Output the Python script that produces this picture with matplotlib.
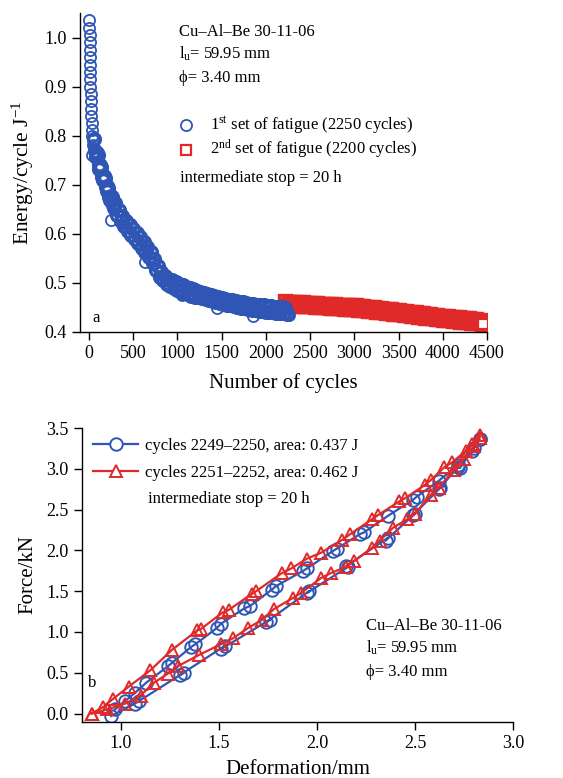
import matplotlib
matplotlib.use("Agg")
import matplotlib.pyplot as plt
from matplotlib.lines import Line2D

plt.rcParams['font.family'] = ['Liberation Serif', 'DejaVu Serif']
plt.rcParams['mathtext.fontset'] = 'custom'
plt.rcParams['mathtext.rm'] = 'Liberation Serif'
plt.rcParams['mathtext.it'] = 'Liberation Serif:italic'

BLUE = '#2f56b4'
RED = '#e02a2a'

# panel a: energy per cycle, 1st set (dense)
steep_cycles = [5, 7, 8, 9, 10, 11, 12, 14, 15, 17, 19, 21, 24, 27, 31, 36, 40, 45, 50, 55]
steep_energy = [1.035, 1.020, 1.005, 0.990, 0.975, 0.960, 0.945, 0.930, 0.915, 0.900,
                0.885, 0.870, 0.855, 0.840, 0.825, 0.812, 0.800, 0.792, 0.782, 0.775]

blue_cycles = list(range(60, 2241, 20))
blue_energy = [0.793, 0.757, 0.760, 0.732, 0.736, 0.709, 0.714, 0.688, 0.694, 0.669,
               0.676, 0.652, 0.661, 0.638, 0.648, 0.626, 0.637, 0.616, 0.627, 0.606,
               0.618, 0.598, 0.610, 0.590, 0.602, 0.582, 0.593, 0.572, 0.583, 0.562,
               0.573, 0.552, 0.562, 0.540, 0.549, 0.526, 0.535, 0.513, 0.523, 0.505,
               0.515, 0.498, 0.509, 0.493, 0.505, 0.489, 0.501, 0.485, 0.498, 0.482,
               0.495, 0.480, 0.492, 0.477, 0.490, 0.474, 0.487, 0.472, 0.484, 0.471,
               0.482, 0.469, 0.480, 0.467, 0.478, 0.465, 0.476, 0.463, 0.474, 0.461,
               0.472, 0.459, 0.470, 0.457, 0.468, 0.455, 0.466, 0.454, 0.465, 0.452,
               0.463, 0.451, 0.462, 0.449, 0.461, 0.448, 0.459, 0.447, 0.458, 0.445,
               0.457, 0.444, 0.456, 0.443, 0.455, 0.442, 0.454, 0.441, 0.453, 0.440,
               0.452, 0.440, 0.451, 0.439, 0.451, 0.438, 0.450, 0.438, 0.449, 0.437]

# extra points where the early band is steep
early_cycles = [70, 90, 110, 130, 150, 170, 190, 210, 230, 250, 270, 290]
early_energy = [0.768, 0.764, 0.740, 0.740, 0.716, 0.718, 0.695, 0.697, 0.675, 0.678,
                0.658, 0.662]

# single circles that stand out of the band
stray_cycles = [30, 250, 640, 1050, 1450, 1680, 1850, 2260]
stray_energy = [0.760, 0.628, 0.543, 0.475, 0.448, 0.463, 0.432, 0.435]

# 2nd set
red_cycles = list(range(2220, 4441, 20)) + [4450]
red_energy = [0.463, 0.455, 0.462, 0.454, 0.462, 0.454, 0.462, 0.453, 0.461, 0.453,
              0.461, 0.452, 0.460, 0.452, 0.460, 0.452, 0.459, 0.451, 0.459, 0.451,
              0.458, 0.450, 0.458, 0.450, 0.457, 0.449, 0.457, 0.449, 0.457, 0.448,
              0.456, 0.448, 0.456, 0.447, 0.455, 0.447, 0.455, 0.446, 0.454, 0.446,
              0.454, 0.445, 0.453, 0.444, 0.452, 0.444, 0.451, 0.443, 0.450, 0.442,
              0.450, 0.441, 0.449, 0.440, 0.448, 0.440, 0.447, 0.439, 0.446, 0.438,
              0.446, 0.437, 0.445, 0.436, 0.444, 0.436, 0.443, 0.435, 0.442, 0.434,
              0.441, 0.433, 0.441, 0.432, 0.440, 0.431, 0.439, 0.430, 0.438, 0.429,
              0.437, 0.429, 0.436, 0.428, 0.435, 0.427, 0.434, 0.426, 0.433, 0.425,
              0.433, 0.424, 0.432, 0.424, 0.431, 0.423, 0.431, 0.422, 0.430, 0.421,
              0.429, 0.421, 0.428, 0.420, 0.428, 0.419, 0.427, 0.419, 0.426, 0.418,
              0.425, 0.417, 0.417]

# panel b: hysteresis loops (deformation mm, force kN)
loop1_up_def = [0.97, 1.02, 1.07, 1.13, 1.24, 1.26, 1.36, 1.38, 1.49, 1.51, 1.63, 1.66,
                1.77, 1.79, 1.93, 1.95, 2.08, 2.10, 2.22, 2.24, 2.36, 2.49, 2.51, 2.62,
                2.72, 2.80, 2.83]
loop1_up = [0.05, 0.15, 0.25, 0.38, 0.58, 0.62, 0.82, 0.85, 1.05, 1.10, 1.29, 1.32,
            1.52, 1.56, 1.75, 1.78, 1.99, 2.02, 2.20, 2.22, 2.42, 2.62, 2.66, 2.85,
            3.05, 3.25, 3.36]
loop1_lo_def = [2.83, 2.79, 2.73, 2.72, 2.62, 2.63, 2.49, 2.50, 2.35, 2.36, 2.15, 2.16,
                1.95, 1.96, 1.74, 1.76, 1.51, 1.53, 1.30, 1.32, 1.09, 1.07, 0.95]
loop1_lo = [3.36, 3.22, 3.01, 3.02, 2.75, 2.77, 2.43, 2.45, 2.12, 2.15, 1.81, 1.80,
            1.48, 1.50, 1.12, 1.15, 0.79, 0.83, 0.47, 0.50, 0.15, 0.12, -0.03]

loop2_up_def = [0.85, 0.91, 0.96, 1.04, 1.15, 1.26, 1.39, 1.41, 1.52, 1.55, 1.67, 1.69,
                1.82, 1.87, 1.95, 2.02, 2.13, 2.17, 2.28, 2.31, 2.42, 2.45, 2.55, 2.58,
                2.65, 2.69, 2.76, 2.79, 2.83]
loop2_up = [0.00, 0.08, 0.18, 0.33, 0.53, 0.78, 1.02, 1.04, 1.24, 1.27, 1.47, 1.50,
            1.72, 1.78, 1.90, 1.97, 2.13, 2.20, 2.38, 2.43, 2.60, 2.64, 2.80, 2.86,
            3.02, 3.08, 3.22, 3.30, 3.41]
loop2_lo_def = [2.83, 2.80, 2.75, 2.70, 2.62, 2.58, 2.50, 2.46, 2.39, 2.32, 2.28, 2.19,
                2.15, 2.07, 2.02, 1.92, 1.88, 1.78, 1.72, 1.65, 1.57, 1.51, 1.40, 1.29,
                1.24, 1.17, 1.10, 1.02, 0.93, 0.85]
loop2_lo = [3.38, 3.28, 3.12, 2.98, 2.77, 2.68, 2.45, 2.38, 2.28, 2.12, 2.03, 1.87,
            1.80, 1.72, 1.66, 1.48, 1.42, 1.28, 1.15, 1.05, 0.92, 0.85, 0.72, 0.58,
            0.49, 0.38, 0.22, 0.12, 0.05, 0.00]

fig = plt.figure(figsize=(5.63, 7.78), dpi=100)


def style(ax):
    for s in ['top', 'right']:
        ax.spines[s].set_visible(False)
    for s in ['left', 'bottom']:
        ax.spines[s].set_linewidth(1.0)
    ax.tick_params(direction='out', length=6, width=1.0, labelsize=13)


# ---- panel a ----
ax1 = fig.add_axes([80 / 563, 1 - 332 / 778, 407 / 563, 319 / 778])
ax1.plot(red_cycles, red_energy, 's', ms=8, mfc='none', mec=RED, mew=2.4, ls='none')
# last square of the run shows its white inside
ax1.plot(red_cycles[-1:], red_energy[-1:], 's', ms=7.5, mfc='white', mec=RED, mew=1.6)
ax1.plot(blue_cycles, blue_energy, 'o', ms=8.5, mfc='none', mec=BLUE, mew=2.4, ls='none')
ax1.plot(early_cycles, early_energy, 'o', ms=8.5, mfc='none', mec=BLUE, mew=2.4, ls='none')
ax1.plot(steep_cycles, steep_energy, 'o', ms=8, mfc='none', mec=BLUE, mew=1.3, ls='none')
ax1.plot(stray_cycles, stray_energy, 'o', ms=8, mfc='none', mec=BLUE, mew=1.3, ls='none')
ax1.set_xlim(-100, 4500)
ax1.set_ylim(0.4, 1.05)
ax1.set_xticks(range(0, 4501, 500))
ax1.set_yticks([0.4, 0.5, 0.6, 0.7, 0.8, 0.9, 1.0])
ax1.set_yticklabels(['0.4', '0.5', '0.6', '0.7', '0.8', '0.9', '1.0'])
style(ax1)
ax1.set_xlabel('Number of cycles', fontsize=15, labelpad=8)
ax1.set_ylabel('Energy/cycle J$^{-1}$', fontsize=15.5, labelpad=6)

ax1.text(0.243, 0.940, 'Cu–Al–Be 30-11-06', transform=ax1.transAxes, fontsize=12, va='center')
ax1.text(0.243, 0.871, 'l$_{\\rm u}$= 59.95 mm', transform=ax1.transAxes, fontsize=12, va='center')
ax1.text(0.243, 0.796, 'ϕ= 3.40 mm', transform=ax1.transAxes, fontsize=12, va='center')
ax1.plot([0.260], [0.649], 'o', ms=8, mfc='none', mec=BLUE, mew=1.3, transform=ax1.transAxes)
ax1.plot([0.260], [0.571], 's', ms=7.5, mfc='white', mec=RED, mew=1.6, transform=ax1.transAxes)
ax1.text(0.320, 0.649, '1$^{\\rm st}$ set of fatigue (2250 cycles)', transform=ax1.transAxes,
         fontsize=12, va='center')
ax1.text(0.320, 0.571, '2$^{\\rm nd}$ set of fatigue (2200 cycles)', transform=ax1.transAxes,
         fontsize=12, va='center')
ax1.text(0.246, 0.483, 'intermediate stop = 20 h', transform=ax1.transAxes, fontsize=12,
         va='center')
ax1.text(0.03, 0.044, 'a', transform=ax1.transAxes, fontsize=12, va='center')

# ---- panel b ----
ax2 = fig.add_axes([81.7 / 563, 1 - 721.7 / 778, 431.3 / 563, 293.7 / 778])
ax2.plot(loop1_up_def + loop1_lo_def, loop1_up + loop1_lo, '-o', color=BLUE, lw=1.6,
         ms=9, mfc='none', mec=BLUE, mew=1.4)
ax2.plot(loop2_up_def + loop2_lo_def, loop2_up + loop2_lo, '-^', color=RED, lw=1.6,
         ms=9, mfc='none', mec=RED, mew=1.4)
ax2.set_xlim(0.8, 3.0)
ax2.set_ylim(-0.1, 3.5)
ax2.set_xticks([1.0, 1.5, 2.0, 2.5, 3.0])
ax2.set_yticks([0.0, 0.5, 1.0, 1.5, 2.0, 2.5, 3.0, 3.5])
style(ax2)
ax2.set_xlabel('Deformation/mm', fontsize=15, labelpad=6)
ax2.set_ylabel('Force/kN', fontsize=15, labelpad=6)

handles = [Line2D([], [], color=BLUE, lw=1.6, marker='o', ms=9, mfc='white', mec=BLUE, mew=1.4),
           Line2D([], [], color=RED, lw=1.6, marker='^', ms=9, mfc='white', mec=RED, mew=1.4)]
ax2.legend(handles, ['cycles 2249–2250, area: 0.437 J', 'cycles 2251–2252, area: 0.462 J'],
           loc='upper left', bbox_to_anchor=(0.0, 1.005), frameon=False, fontsize=12,
           handlelength=2.7, handletextpad=0.4, labelspacing=0.62, borderaxespad=0.3)
ax2.text(0.154, 0.758, 'intermediate stop = 20 h', transform=ax2.transAxes, fontsize=12,
         va='center')
ax2.text(0.659, 0.326, 'Cu–Al–Be 30-11-06', transform=ax2.transAxes, fontsize=12, va='center')
ax2.text(0.659, 0.251, 'l$_{\\rm u}$= 59.95 mm', transform=ax2.transAxes, fontsize=12, va='center')
ax2.text(0.659, 0.169, 'ϕ= 3.40 mm', transform=ax2.transAxes, fontsize=12, va='center')
ax2.text(0.015, 0.132, 'b', transform=ax2.transAxes, fontsize=12, va='center')

fig.savefig('out.png', dpi=100)
